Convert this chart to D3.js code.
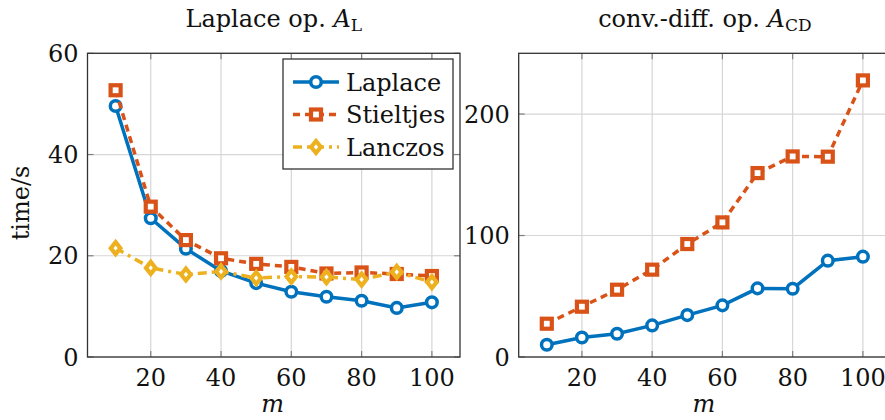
<!DOCTYPE html>
<html lang="en">
<head>
    <meta charset="UTF-8">
    <title>Laplace / conv.-diff. timings</title>
    <style>
        html, body { margin: 0; background: #fff; }
        svg text { font-family: "DejaVu Serif", serif; fill: #111; }
    </style>
</head>
<body>
    <div class="chart"></div>
    <script src="https://d3js.org/d3.v7.min.js"></script>
    <script>
        // data
        var mValues = [10, 20, 30, 40, 50, 60, 70, 80, 90, 100];
        var laplaceL = [49.6, 27.4, 21.4, 17.0, 14.6, 12.9, 11.9, 11.1, 9.7, 10.8];
        var stieltjesL = [52.7, 29.7, 23.1, 19.5, 18.4, 17.8, 16.5, 16.7, 16.4, 16.0];
        var lanczosL = [21.5, 17.6, 16.3, 16.9, 15.6, 15.9, 15.8, 15.3, 16.8, 14.8];
        var laplaceCD = [10.1, 16.1, 19.2, 26.0, 34.5, 42.5, 56.5, 56.2, 79.3, 82.6];
        var stieltjesCD = [27.4, 41.4, 55.4, 71.9, 93.0, 110.8, 151.4, 165.1, 164.9, 227.7];
        var xTicks = [20, 40, 60, 80, 100];
        var yTicksL = [0, 20, 40, 60];
        var yTicksCD = [0, 100, 200];
        var seriesNames = ["Laplace", "Stieltjes", "Lanczos"];

        var colors = { Laplace: "#0072BD", Stieltjes: "#D95319", Lanczos: "#EDB120" };
        var dashes = { Laplace: null, Stieltjes: "7,5", Lanczos: "9,5,3,5" };
        var fs = 24;

        var svg = d3.select(".chart").append("svg")
            .attr("width", 885).attr("height", 420);

        var plotTop = 53.3, plotBottom = 357;

        function drawMarker(g, name, x, y) {
            var c = colors[name];
            if (name === "Laplace") {
                g.append("circle").attr("cx", x).attr("cy", y).attr("r", 5.3)
                    .attr("fill", "white").attr("stroke", c).attr("stroke-width", 3.5);
            } else if (name === "Stieltjes") {
                g.append("rect").attr("x", x - 5).attr("y", y - 5)
                    .attr("width", 10).attr("height", 10)
                    .attr("fill", "white").attr("stroke", c).attr("stroke-width", 4.2);
            } else {
                var s = 6;
                g.append("path")
                    .attr("d", `M${x},${y - s}L${x + s * 0.8},${y}L${x},${y + s}L${x - s * 0.8},${y}Z`)
                    .attr("fill", "white").attr("stroke", c).attr("stroke-width", 4.2);
            }
        }

        function panel(left, right, yMax, yTicks, series, title, sub) {
            var x = d3.scaleLinear().domain([2, 108]).range([left, right]);
            var y = d3.scaleLinear().domain([0, yMax]).range([plotBottom, plotTop]);
            var g = svg.append("g");

            g.append("defs").append("clipPath").attr("id", "clip" + Math.round(left))
                .append("rect").attr("x", left).attr("y", plotTop)
                .attr("width", right - left).attr("height", plotBottom - plotTop);

            // grid
            var grid = g.append("g").attr("stroke", "#d6d6d6").attr("stroke-width", 1.2);
            xTicks.forEach(function (t) {
                grid.append("line").attr("x1", x(t)).attr("x2", x(t)).attr("y1", plotTop).attr("y2", plotBottom);
            });
            yTicks.forEach(function (t) {
                grid.append("line").attr("x1", left).attr("x2", right).attr("y1", y(t)).attr("y2", y(t));
            });

            // tick marks on the frame
            var tk = g.append("g").attr("stroke", "#808080").attr("stroke-width", 1.2);
            xTicks.forEach(function (t) {
                tk.append("line").attr("x1", x(t)).attr("x2", x(t)).attr("y1", plotBottom).attr("y2", plotBottom - 6);
                tk.append("line").attr("x1", x(t)).attr("x2", x(t)).attr("y1", plotTop).attr("y2", plotTop + 6);
            });
            yTicks.forEach(function (t) {
                tk.append("line").attr("x1", left).attr("x2", left + 6).attr("y1", y(t)).attr("y2", y(t));
                tk.append("line").attr("x1", right).attr("x2", right - 6).attr("y1", y(t)).attr("y2", y(t));
            });

            // lines and markers
            var plot = g.append("g").attr("clip-path", `url(#clip${Math.round(left)})`);
            series.forEach(function (s) {
                var pts = mValues.map(function (m, i) { return [m, s.values[i]]; });
                var line = d3.line().x(d => x(d[0])).y(d => y(d[1]));
                plot.append("path").attr("d", line(pts))
                    .attr("fill", "none").attr("stroke", colors[s.name])
                    .attr("stroke-width", 3.5).attr("stroke-dasharray", dashes[s.name]);
                pts.forEach(function (d) { drawMarker(plot, s.name, x(d[0]), y(d[1])); });
            });

            // frame
            g.append("rect").attr("x", left).attr("y", plotTop)
                .attr("width", right - left).attr("height", plotBottom - plotTop)
                .attr("fill", "none").attr("stroke", "#333").attr("stroke-width", 1.3);

            // tick labels
            xTicks.forEach(function (t) {
                g.append("text").attr("x", x(t)).attr("y", 386).attr("text-anchor", "middle")
                    .attr("font-size", fs).text(t);
            });
            yTicks.forEach(function (t) {
                g.append("text").attr("x", left - 9).attr("y", y(t)).attr("dy", "0.36em")
                    .attr("text-anchor", "end").attr("font-size", fs).text(t);
            });

            // x label
            g.append("text").attr("x", (left + right) / 2 - 1).attr("y", 412)
                .attr("text-anchor", "middle").attr("font-size", fs).attr("font-style", "italic").text("m");

            // title
            var tt = g.append("text").attr("x", (left + right) / 2)
                .attr("y", 27).attr("text-anchor", "middle").attr("font-size", fs);
            tt.append("tspan").text(title + " ");
            tt.append("tspan").attr("font-style", "italic").text("A");
            tt.append("tspan").attr("font-size", 17).attr("dy", 4).text(sub);
        }

        panel(87.5, 460, 60, yTicksL, [
            { name: "Laplace", values: laplaceL },
            { name: "Stieltjes", values: stieltjesL },
            { name: "Lanczos", values: lanczosL }
        ], "Laplace op.", "L");

        panel(518.7, 891, 250, yTicksCD, [
            { name: "Laplace", values: laplaceCD },
            { name: "Stieltjes", values: stieltjesCD }
        ], "conv.-diff. op.", "CD");

        // y label
        svg.append("text").attr("transform", "translate(29,203) rotate(-90)")
            .attr("text-anchor", "middle").attr("font-size", fs).text("time/s");

        // legend
        var lg = svg.append("g");
        lg.append("rect").attr("x", 283).attr("y", 59).attr("width", 170).attr("height", 110)
            .attr("fill", "white").attr("stroke", "#333").attr("stroke-width", 1.3);
        seriesNames.forEach(function (name, i) {
            var cy = 82 + i * 32.5;
            lg.append("line").attr("x1", 293).attr("x2", 339).attr("y1", cy).attr("y2", cy)
                .attr("stroke", colors[name]).attr("stroke-width", 3.5)
                .attr("stroke-dasharray", dashes[name]);
            drawMarker(lg, name, 316, cy);
            lg.append("text").attr("x", 346).attr("y", cy).attr("dy", "0.36em")
                .attr("font-size", fs).text(name);
        });
    </script>
</body>
</html>
